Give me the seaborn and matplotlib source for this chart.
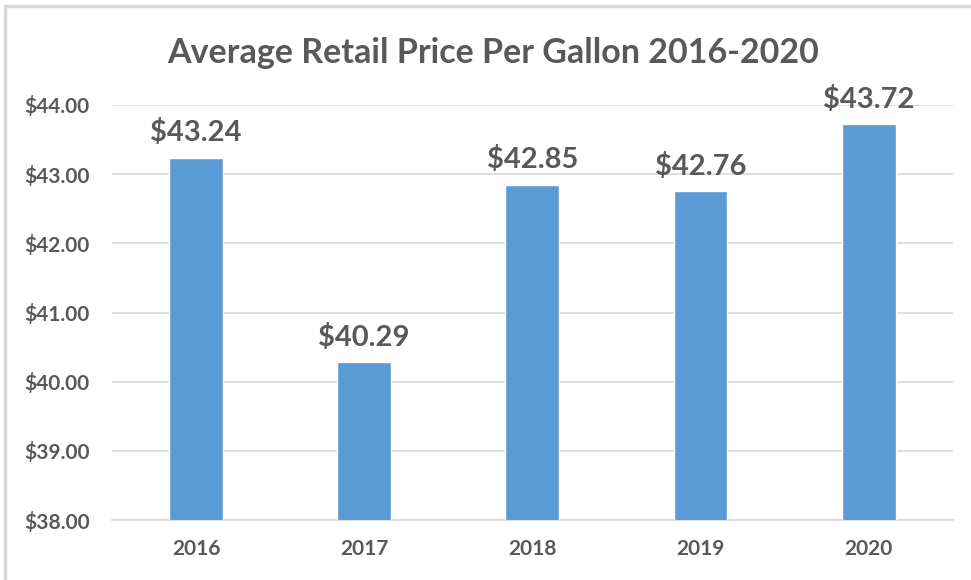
import pandas as pd
import seaborn as sns
import matplotlib.pyplot as plt
from matplotlib.lines import Line2D

# Chart values
years = ['2016', '2017', '2018', '2019', '2020']
prices = [43.24, 40.29, 42.85, 42.76, 43.72]
y_ticks = [38, 39, 40, 41, 42, 43, 44]

df = pd.DataFrame({'year': years, 'price': prices})

sns.set_theme(style='white')
plt.rcParams['font.family'] = ['Lato', 'DejaVu Sans']

text_color = '#595959'
bar_color = '#5B9BD5'
grid_color = '#D9D9D9'

fig = plt.figure(figsize=(9.71, 5.80), dpi=100)
ax = fig.add_axes([0.1153, 0.1034, 0.866, 0.7156])

sns.barplot(data=df, x='year', y='price', color=bar_color, width=0.32,
            saturation=1, ax=ax, zorder=3)

ax.set_ylim(38, 44)
ax.set_yticks(y_ticks)
ax.set_yticklabels([f'${t:.2f}' for t in y_ticks])
ax.set_xlim(-0.5, 4.5)
ax.yaxis.grid(True, color=grid_color, linewidth=1.2, zorder=0)
for s in ax.spines.values():
    s.set_visible(False)
ax.spines['bottom'].set_visible(True)
ax.spines['bottom'].set_color(grid_color)
ax.tick_params(axis='both', length=0, labelsize=15, labelcolor=text_color)
ax.tick_params(axis='y', pad=16)
ax.tick_params(axis='x', pad=14)
for lbl in ax.get_yticklabels() + ax.get_xticklabels():
    lbl.set_fontweight('bold')
ax.set_xlabel('')
ax.set_ylabel('')

for i, p in enumerate(prices):
    ax.annotate(f'${p:.2f}', (i, p), xytext=(0, 8), textcoords='offset points',
                ha='center', va='bottom', fontsize=21, fontweight='bold',
                color=text_color, annotation_clip=False)

fig.text(0.508, 0.908, 'Average Retail Price Per Gallon 2016-2020', ha='center',
         va='center', fontsize=24.5, fontweight='bold', color=text_color)

# light chart frame like the spreadsheet border
fig.add_artist(Line2D([0.005, 0.005], [0.0, 0.99], transform=fig.transFigure,
                      color=grid_color, linewidth=2.5))
fig.add_artist(Line2D([0.005, 1.0], [0.99, 0.99], transform=fig.transFigure,
                      color=grid_color, linewidth=2.5))

fig.savefig('out.png', dpi=100)
